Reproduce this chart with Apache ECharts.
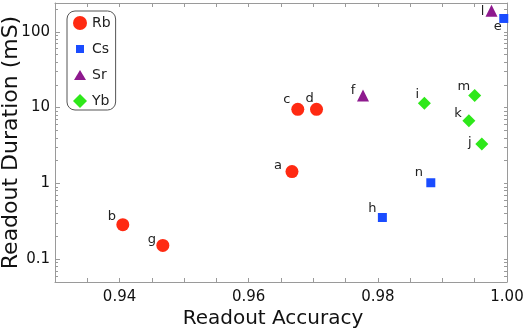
<!DOCTYPE html>
<html>
<head>
<meta charset="utf-8">
<script src="https://cdn.jsdelivr.net/npm/echarts@6/dist/echarts.min.js"></script>
<style>
  html, body { margin: 0; padding: 0; background: #fff; }
  #chart { width: 528px; height: 330px; }
</style>
</head>
<body>
<div id="chart"></div>
<script>
// data
var rbNames = ['a', 'b', 'c', 'd', 'g'];
var rbAcc = [0.9667, 0.9405, 0.9676, 0.9705, 0.9467];
var rbDur = [1.43, 0.285, 9.5, 9.5, 0.152];

var csNames = ['e', 'h', 'n'];
var csAcc = [0.9995, 0.9807, 0.9882];
var csDur = [150, 0.355, 1.02];

var srNames = ['f', 'l'];
var srAcc = [0.9777, 0.9976];
var srDur = [14.5, 189];

var ybNames = ['i', 'j', 'k', 'm'];
var ybAcc = [0.9872, 0.9961, 0.9941, 0.9950];
var ybDur = [11.4, 3.3, 6.7, 14.4];

var xLabels = [0.94, 0.96, 0.98, 1.00];
var xTicks = [0.935, 0.94, 0.945, 0.95, 0.955, 0.96, 0.965, 0.97, 0.975, 0.98, 0.985, 0.99, 0.995];
var yMajor = [0.1, 1, 10, 100];
var yMinor = [0.06, 0.07, 0.08, 0.09, 0.2, 0.3, 0.4, 0.5, 0.6, 0.7, 0.8, 0.9,
    2, 3, 4, 5, 6, 7, 8, 9, 20, 30, 40, 50, 60, 70, 80, 90, 200];

// where each letter sits next to its marker (px)
var labelOffset = {
    a: [-14, -6], b: [-11, -8], c: [-11, -10], d: [-7, -11], g: [-11, -6],
    e: [-6, 8], h: [-10, -9], n: [-12, -10],
    f: [-10, -5], l: [-9, 1],
    i: [-7, -9], j: [-12, -1], k: [-11, -7], m: [-11, -9]
};

var yMin = 0.05, yMax = 240;
var log10 = function (v) { return Math.log(v) / Math.LN10; };
var gridColor = '#9a9a9a';
var axisFont = 'DejaVu Sans';

function points(names, xs, ys) {
    return names.map(function (n, i) {
        return {
            name: n,
            value: [xs[i], ys[i]],
            label: { offset: labelOffset[n] }
        };
    });
}

function scatter(name, names, xs, ys, symbol, size, color) {
    return {
        type: 'scatter',
        name: name,
        xAxisIndex: 0,
        yAxisIndex: 0,
        symbol: symbol,
        symbolSize: size,
        itemStyle: { color: color, opacity: 1 },
        label: {
            show: true,
            position: 'inside',
            formatter: '{b}',
            color: '#222',
            fontFamily: 'DejaVu Sans',
            fontSize: 13
        },
        emphasis: { disabled: true },
        data: points(names, xs, ys)
    };
}

var chart = echarts.init(document.getElementById('chart'));

chart.setOption({
    backgroundColor: '#fff',
    animation: false,
    grid: { left: 55, right: 21, top: 3, bottom: 48, containLabel: false, outerBoundsMode: 'none' },
    legend: {
        orient: 'vertical',
        left: 67,
        top: 11,
        padding: [5, 5, 2, 6],
        itemWidth: 14,
        itemHeight: 14,
        itemGap: 12,
        itemTextGap: 4,
        borderColor: '#555',
        borderWidth: 1,
        borderRadius: 8,
        textStyle: { fontFamily: 'DejaVu Sans', fontSize: 14, color: '#222' },
        data: [
            { name: 'Rb', icon: 'circle' },
            { name: 'Cs', icon: 'path://M0,0M14,14M3,3L11,3L11,11L3,11Z' },
            { name: 'Sr', icon: 'path://M0,0M14,14M7,2L13,12L1,12Z' },
            { name: 'Yb', icon: 'diamond' }
        ]
    },
    xAxis: [
        {
            type: 'value',
            position: 'bottom',
            min: 0.93,
            max: 1.0,
            name: 'Readout Accuracy',
            nameLocation: 'middle',
            nameGap: 27,
            nameMoveOverlap: false,
            nameTextStyle: {
                fontFamily: axisFont, fontSize: 20, color: '#111',
                padding: [0, 16, 0, 0]
            },
            axisLine: { show: true, onZero: false, lineStyle: { color: gridColor } },
            axisTick: { show: true, inside: true, length: 4, customValues: xTicks, lineStyle: { color: gridColor } },
            axisLabel: {
                customValues: xLabels,
                margin: 8,
                fontFamily: axisFont,
                fontSize: 15,
                color: '#111',
                formatter: function (v) { return v.toFixed(2); }
            },
            splitLine: { show: false }
        },
        {
            type: 'value',
            position: 'top',
            min: 0.93,
            max: 1.0,
            axisLine: { show: true, onZero: false, lineStyle: { color: gridColor } },
            axisTick: { show: true, inside: true, length: 4, customValues: xTicks, lineStyle: { color: gridColor } },
            axisLabel: { show: false },
            splitLine: { show: false }
        }
    ],
    yAxis: [
        {
            type: 'log',
            logBase: 10,
            position: 'left',
            min: yMin,
            max: yMax,
            name: 'Readout Duration (mS)',
            nameLocation: 'middle',
            nameGap: 33,
            nameMoveOverlap: false,
            nameTextStyle: { fontFamily: axisFont, fontSize: 22, color: '#111' },
            axisLine: { show: true, onZero: false, lineStyle: { color: gridColor } },
            axisTick: { show: true, inside: true, length: 5, lineStyle: { color: gridColor } },
            axisLabel: {
                margin: 5,
                fontFamily: axisFont,
                fontSize: 15,
                color: '#111',
                showMinLabel: false,
                showMaxLabel: false,
                formatter: function (v) {
                    for (var i = 0; i < yMajor.length; i++) {
                        if (Math.abs(v - yMajor[i]) < yMajor[i] * 1e-6) return String(yMajor[i]);
                    }
                    return '';
                }
            },
            splitLine: { show: false }
        },
        {
            // minor log ticks on the left side, drawn in log10 space
            type: 'value',
            position: 'left',
            min: log10(yMin),
            max: log10(yMax),
            axisLine: { show: false, onZero: false },
            axisTick: { show: true, inside: true, length: 3, customValues: yMinor.map(log10), lineStyle: { color: gridColor } },
            axisLabel: { show: false },
            splitLine: { show: false }
        },
        {
            // mirrored right side
            type: 'value',
            position: 'right',
            min: log10(yMin),
            max: log10(yMax),
            axisLine: { show: true, onZero: false, lineStyle: { color: gridColor } },
            axisTick: { show: true, inside: true, length: 3, customValues: yMajor.concat(yMinor).map(log10), lineStyle: { color: gridColor } },
            axisLabel: { show: false },
            splitLine: { show: false }
        }
    ],
    series: [
        scatter('Rb', rbNames, rbAcc, rbDur, 'circle', 13, '#ff2a12'),
        scatter('Cs', csNames, csAcc, csDur, 'rect', 9, '#1a4cff'),
        scatter('Sr', srNames, srAcc, srDur, 'triangle', 12, '#8e1a8e'),
        scatter('Yb', ybNames, ybAcc, ybDur, 'diamond', 13, '#2ee81a')
    ]
});
</script>
</body>
</html>
